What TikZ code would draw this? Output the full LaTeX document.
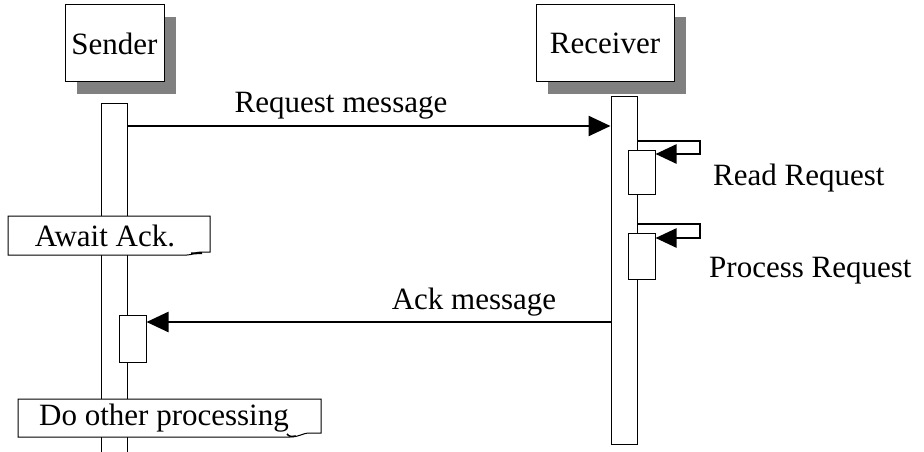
\documentclass[tikz,border=0pt]{standalone}
\usepackage{fontspec}
\setmainfont{Liberation Serif}
\usetikzlibrary{arrows.meta,shadows}
\definecolor{shadowgray}{RGB}{128,128,128}
\tikzset{
  actor/.style={draw=black, line width=1pt, fill=white, inner sep=0pt,
    drop shadow={shadow xshift=12pt, shadow yshift=-12pt, fill=shadowgray, opacity=1}},
  lifebar/.style={draw=black, line width=1pt, fill=white, minimum width=26pt, inner sep=0pt},
  actbox/.style={draw=black, line width=1pt, fill=white, minimum width=27pt, inner sep=0pt},
  msg/.style={line width=2.5pt, -{Triangle[length=22pt,width=20pt]}},
  selfloop/.style={line width=2.5pt, -{Triangle[length=21pt,width=19pt]}},
  lbl/.style={inner sep=0pt},
  notebox/.style={draw=black, line width=1pt, fill=white},
  txt/.style={font=\fontsize{31}{37}\selectfont}
}
\begin{document}
\begin{tikzpicture}[x=1pt, y=-1pt, txt]
  \useasboundingbox (0,0) rectangle (924,452);
  \clip (0,0) rectangle (924,452);

  % lifelines
  \node[lifebar, minimum height=367pt] (sbar) at (114,286.5) {};
  \node[lifebar, minimum height=348pt] (rbar) at (624,270) {};

  % actors
  \node[actor, minimum width=99pt, minimum height=77pt] (sender) at (114.5,43.5) {Sender};
  \node[actor, minimum width=138pt, minimum height=77pt] (receiver) at (605,43.5) {Receiver};

  % activations on the receiver
  \node[actbox, minimum height=44pt] (read) at (641.5,172) {};
  \node[actbox, minimum height=46pt] (proc) at (641.5,256) {};
  % activation on the sender
  \node[actbox, minimum height=47pt] (sact) at (132.5,338.5) {};

  % request message
  \draw[msg] (sbar.east |- 0,126) -- (rbar.west |- 0,126);
  \node[lbl] (reqlbl) at (341,106) {Request message};

  % self calls on the receiver
  \coordinate (loopA) at (700,141);
  \draw[selfloop] (rbar.east |- loopA) -- (loopA) |- (read.east |- 0,154);
  \node[lbl, anchor=west] (readlbl) at (713,178) {Read Request};
  \coordinate (loopB) at (700,224);
  \draw[selfloop] (rbar.east |- loopB) -- (loopB) |- (proc.east |- 0,238);
  \node[lbl, anchor=west] (proclbl) at (709,271) {Process Request};

  % acknowledgement
  \draw[msg] (rbar.west |- 0,322) -- (sact.east |- 0,322);
  \node[lbl] (acklbl) at (474,302) {Ack message};

  % notes on the sender lifeline
  \draw[notebox] (8,216) -- (210,216) -- (210,252) -- (201,252)
    .. controls (195,252) and (193,255) .. (187,255) -- (8,255) -- cycle;
  \draw[line width=2pt] (191,253.5) -- (202,253);
  \node[lbl] (await) at (105,236) {Await Ack.};

  \draw[notebox] (18,399) -- (321,399) -- (321,433) -- (310,433)
    .. controls (302,433) and (300,437) .. (290,437) -- (18,437) -- cycle;
  \draw[line width=1.5pt] (287,434) .. controls (289,437) and (293,437) .. (296,436);
  \node[lbl] (doother) at (164,418) {Do other processing};
\end{tikzpicture}
\end{document}
